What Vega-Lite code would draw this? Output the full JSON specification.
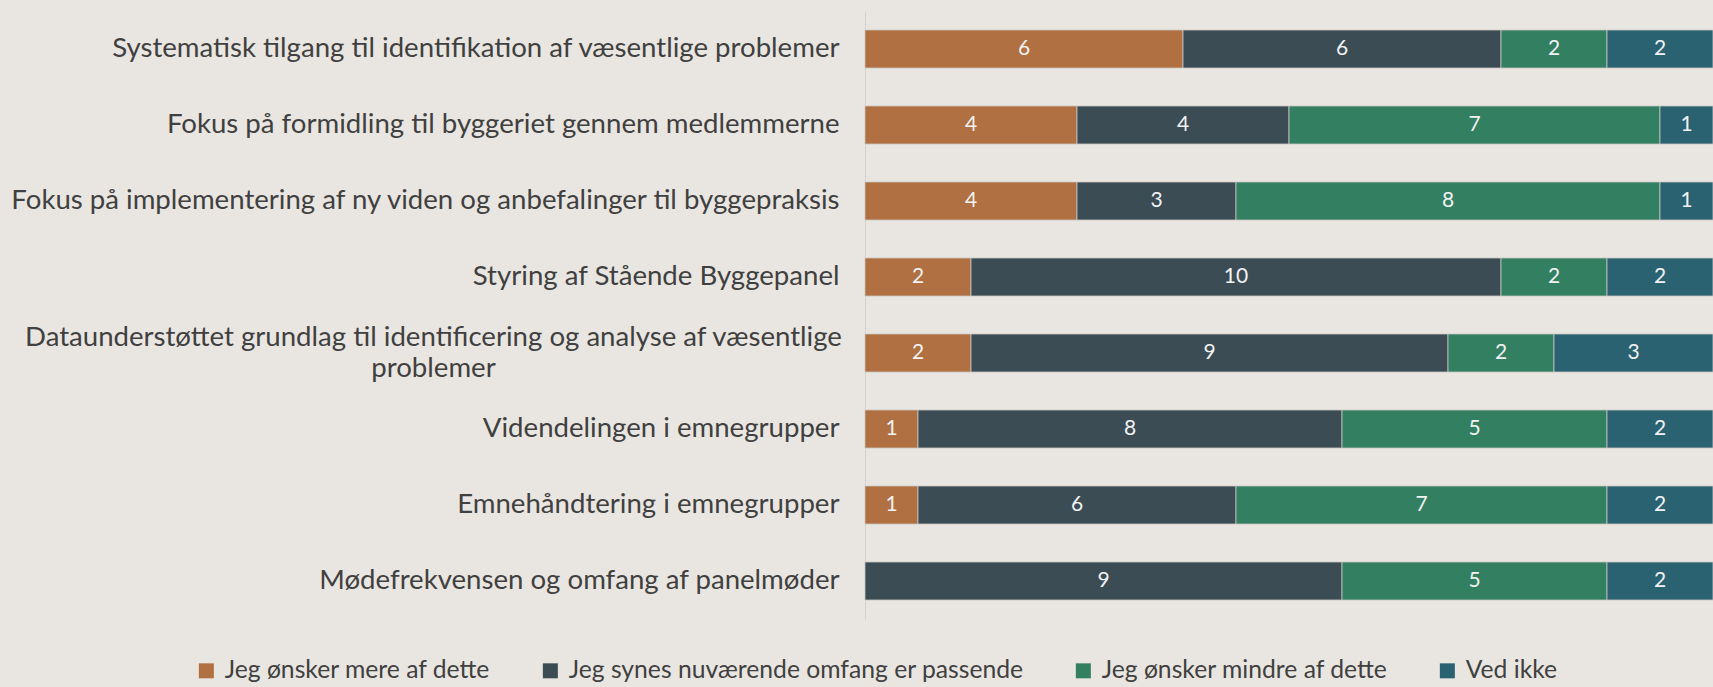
{
  "$schema": "https://vega.github.io/schema/vega-lite/v6.json",
  "width": 848,
  "height": 608,
  "autosize": {"type": "none"},
  "padding": {"left": 865, "top": 11, "right": 0, "bottom": 68},
  "background": "#E9E6E1",
  "config": {"view": {"stroke": null}, "font": "Lato"},
  "data": {
    "values": [
      {"emne": "Systematisk tilgang til identifikation af væsentlige problemer", "svar": "Jeg ønsker mere af dette", "n": 6},
      {"emne": "Systematisk tilgang til identifikation af væsentlige problemer", "svar": "Jeg synes nuværende omfang er passende", "n": 6},
      {"emne": "Systematisk tilgang til identifikation af væsentlige problemer", "svar": "Jeg ønsker mindre af dette", "n": 2},
      {"emne": "Systematisk tilgang til identifikation af væsentlige problemer", "svar": "Ved ikke", "n": 2},
      {"emne": "Fokus på formidling til byggeriet gennem medlemmerne", "svar": "Jeg ønsker mere af dette", "n": 4},
      {"emne": "Fokus på formidling til byggeriet gennem medlemmerne", "svar": "Jeg synes nuværende omfang er passende", "n": 4},
      {"emne": "Fokus på formidling til byggeriet gennem medlemmerne", "svar": "Jeg ønsker mindre af dette", "n": 7},
      {"emne": "Fokus på formidling til byggeriet gennem medlemmerne", "svar": "Ved ikke", "n": 1},
      {"emne": "Fokus på implementering af ny viden og anbefalinger til byggepraksis", "svar": "Jeg ønsker mere af dette", "n": 4},
      {"emne": "Fokus på implementering af ny viden og anbefalinger til byggepraksis", "svar": "Jeg synes nuværende omfang er passende", "n": 3},
      {"emne": "Fokus på implementering af ny viden og anbefalinger til byggepraksis", "svar": "Jeg ønsker mindre af dette", "n": 8},
      {"emne": "Fokus på implementering af ny viden og anbefalinger til byggepraksis", "svar": "Ved ikke", "n": 1},
      {"emne": "Styring af Stående Byggepanel", "svar": "Jeg ønsker mere af dette", "n": 2},
      {"emne": "Styring af Stående Byggepanel", "svar": "Jeg synes nuværende omfang er passende", "n": 10},
      {"emne": "Styring af Stående Byggepanel", "svar": "Jeg ønsker mindre af dette", "n": 2},
      {"emne": "Styring af Stående Byggepanel", "svar": "Ved ikke", "n": 2},
      {"emne": "Dataunderstøttet grundlag til identificering og analyse af væsentlige problemer", "svar": "Jeg ønsker mere af dette", "n": 2},
      {"emne": "Dataunderstøttet grundlag til identificering og analyse af væsentlige problemer", "svar": "Jeg synes nuværende omfang er passende", "n": 9},
      {"emne": "Dataunderstøttet grundlag til identificering og analyse af væsentlige problemer", "svar": "Jeg ønsker mindre af dette", "n": 2},
      {"emne": "Dataunderstøttet grundlag til identificering og analyse af væsentlige problemer", "svar": "Ved ikke", "n": 3},
      {"emne": "Videndelingen i emnegrupper", "svar": "Jeg ønsker mere af dette", "n": 1},
      {"emne": "Videndelingen i emnegrupper", "svar": "Jeg synes nuværende omfang er passende", "n": 8},
      {"emne": "Videndelingen i emnegrupper", "svar": "Jeg ønsker mindre af dette", "n": 5},
      {"emne": "Videndelingen i emnegrupper", "svar": "Ved ikke", "n": 2},
      {"emne": "Emnehåndtering i emnegrupper", "svar": "Jeg ønsker mere af dette", "n": 1},
      {"emne": "Emnehåndtering i emnegrupper", "svar": "Jeg synes nuværende omfang er passende", "n": 6},
      {"emne": "Emnehåndtering i emnegrupper", "svar": "Jeg ønsker mindre af dette", "n": 7},
      {"emne": "Emnehåndtering i emnegrupper", "svar": "Ved ikke", "n": 2},
      {"emne": "Mødefrekvensen og omfang af panelmøder", "svar": "Jeg synes nuværende omfang er passende", "n": 9},
      {"emne": "Mødefrekvensen og omfang af panelmøder", "svar": "Jeg ønsker mindre af dette", "n": 5},
      {"emne": "Mødefrekvensen og omfang af panelmøder", "svar": "Ved ikke", "n": 2}
    ]
  },
  "transform": [
    {"calculate": "indexof(['Jeg ønsker mere af dette','Jeg synes nuværende omfang er passende','Jeg ønsker mindre af dette','Ved ikke'], datum.svar)", "as": "rk"},
    {"stack": "n", "groupby": ["emne"], "sort": [{"field": "rk", "order": "ascending"}], "as": ["n0", "n1"]},
    {"calculate": "(datum.n0 + datum.n1) / 2", "as": "mid"}
  ],
  "encoding": {
    "y": {
      "field": "emne",
      "type": "nominal",
      "sort": [
        "Systematisk tilgang til identifikation af væsentlige problemer",
        "Fokus på formidling til byggeriet gennem medlemmerne",
        "Fokus på implementering af ny viden og anbefalinger til byggepraksis",
        "Styring af Stående Byggepanel",
        "Dataunderstøttet grundlag til identificering og analyse af væsentlige problemer",
        "Videndelingen i emnegrupper",
        "Emnehåndtering i emnegrupper",
        "Mødefrekvensen og omfang af panelmøder"
      ],
      "scale": {"paddingInner": 0.5, "paddingOuter": 0.25},
      "axis": {
        "title": null,
        "ticks": false,
        "domain": true,
        "domainColor": "#D6D3CE",
        "domainWidth": 1,
        "labelPadding": {"condition": {"test": "indexof(datum.label, 'Dataunderst') == 0", "value": 432}, "value": 26},
        "labelAlign": {"condition": {"test": "indexof(datum.label, 'Dataunderst') == 0", "value": "center"}, "value": "right"},
        "labelOffset": {"condition": {"test": "indexof(datum.label, 'Dataunderst') == 0", "value": -15}, "value": 0},
        "labelFontSize": 27.6,
        "labelColor": "#404040",
        "labelLimit": 0,
        "labelLineHeight": 31,
        "labelExpr": "datum.label == 'Dataunderstøttet grundlag til identificering og analyse af væsentlige problemer' ? ['Dataunderstøttet grundlag til identificering og analyse af væsentlige', 'problemer'] : datum.label"
      }
    }
  },
  "layer": [
    {
      "mark": {"type": "bar", "stroke": "#C9C6C1", "strokeWidth": 0.8},
      "encoding": {
        "x": {"field": "n0", "type": "quantitative", "scale": {"domain": [0, 16], "nice": false}, "axis": null},
        "x2": {"field": "n1"},
        "color": {
          "field": "svar",
          "type": "nominal",
          "scale": {
            "domain": ["Jeg ønsker mere af dette", "Jeg synes nuværende omfang er passende", "Jeg ønsker mindre af dette", "Ved ikke"],
            "range": ["#B07041", "#3B4C55", "#337F62", "#2A6272"]
          },
          "legend": {
            "orient": "none",
            "direction": "horizontal",
            "legendX": -671,
            "legendY": 647,
            "title": null,
            "symbolType": "square",
            "symbolSize": 225,
            "symbolStrokeWidth": 0,
            "symbolOpacity": 1,
            "labelFontSize": 24.7,
            "labelColor": "#404040",
            "labelOffset": 6,
            "columnPadding": 47,
            "labelLimit": 0
          }
        }
      }
    },
    {
      "mark": {"type": "text", "color": "#F2F2F2", "fontSize": 21, "baseline": "middle"},
      "encoding": {
        "x": {"field": "mid", "type": "quantitative"},
        "text": {"field": "n", "type": "quantitative"}
      }
    }
  ]
}
